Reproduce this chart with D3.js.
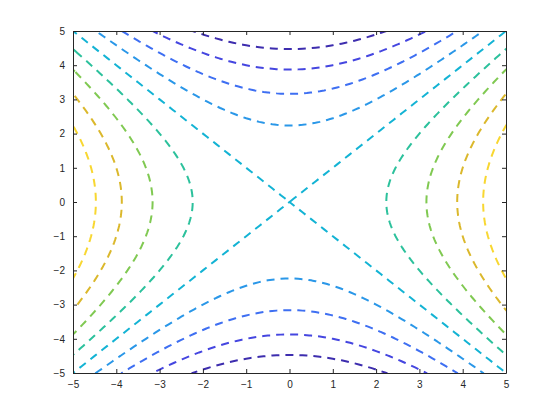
<!DOCTYPE html>
<html>
<head>
<meta charset="utf-8">
<script src="https://cdn.jsdelivr.net/npm/d3@7"></script>
<style>
  body { margin: 0; background: #fff; }
  svg { display: block; }
</style>
</head>
<body>
<div id="chart"></div>
<script>
// contour levels of z = x^2 - y^2 on [-5,5] x [-5,5]
var levels = [-20, -15, -10, -5, 0, 5, 10, 15, 20];
var xTicks = [-5, -4, -3, -2, -1, 0, 1, 2, 3, 4, 5];
var yTicks = [-5, -4, -3, -2, -1, 0, 1, 2, 3, 4, 5];
var xRange = [-5, 5];
var yRange = [-5, 5];

// parula-like colours, one per level
var levelColors = ["#3d2dae", "#4546e0", "#3e6ff2", "#2a97e8", "#13b3d4",
                   "#2cc19c", "#80c952", "#dbb82c", "#f8d731"];

var width = 560, height = 420;
var margin = {top: 31, right: 54, bottom: 47, left: 73};

var svg = d3.select("#chart").append("svg")
    .attr("width", width)
    .attr("height", height);

var xScale = d3.scaleLinear().domain(xRange).range([margin.left, width - margin.right]);
var yScale = d3.scaleLinear().domain(yRange).range([height - margin.bottom, margin.top]);

// sample the surface on a grid
var n = 101;
var step = (xRange[1] - xRange[0]) / (n - 1);
var values = new Array(n * n);
for (var j = 0; j < n; j++) {
  for (var i = 0; i < n; i++) {
    var xv = xRange[0] + i * step, yv = yRange[0] + j * step;
    values[j * n + i] = xv * xv - yv * yv;
  }
}

var contours = d3.contours().size([n, n]).thresholds(levels)(values);

var proj = d3.geoTransform({
  point: function(px, py) {
    this.stream.point(xScale(xRange[0] + (px - 0.5) * step),
                      yScale(yRange[0] + (py - 0.5) * step));
  }
});
var path = d3.geoPath(proj);

svg.append("clipPath").attr("id", "plotclip")
  .append("rect")
    .attr("x", xScale(xRange[0]))
    .attr("y", yScale(yRange[1]))
    .attr("width", xScale(xRange[1]) - xScale(xRange[0]))
    .attr("height", yScale(yRange[0]) - yScale(yRange[1]));

svg.append("g")
    .attr("clip-path", "url(#plotclip)")
  .selectAll("path")
  .data(contours)
  .enter()
  .append("path")
    .attr("d", path)
    .attr("fill", "none")
    .attr("stroke", function(d) { return levelColors[levels.indexOf(d.value)]; })
    .attr("stroke-width", 2)
    .attr("stroke-dasharray", "8,6");

// axes box with inward ticks on all four sides
var axisColor = "#262626";
var tickLen = 4;

var xAxisB = d3.axisBottom(xScale).tickValues(xTicks).tickSizeInner(-tickLen).tickSizeOuter(0).tickPadding(8);
var xAxisT = d3.axisTop(xScale).tickValues(xTicks).tickSizeInner(-tickLen).tickSizeOuter(0).tickFormat("");
var yAxisL = d3.axisLeft(yScale).tickValues(yTicks).tickSizeInner(-tickLen).tickSizeOuter(0).tickPadding(8);
var yAxisR = d3.axisRight(yScale).tickValues(yTicks).tickSizeInner(-tickLen).tickSizeOuter(0).tickFormat("");

svg.append("g").attr("class", "x axis")
    .attr("transform", "translate(0," + yScale(yRange[0]) + ")").call(xAxisB);
svg.append("g").attr("class", "x axis top")
    .attr("transform", "translate(0," + yScale(yRange[1]) + ")").call(xAxisT);
svg.append("g").attr("class", "y axis")
    .attr("transform", "translate(" + xScale(xRange[0]) + ",0)").call(yAxisL);
svg.append("g").attr("class", "y axis right")
    .attr("transform", "translate(" + xScale(xRange[1]) + ",0)").call(yAxisR);

svg.selectAll(".axis path").style("stroke", axisColor).style("stroke-width", 1);
svg.selectAll(".axis line").style("stroke", axisColor);
svg.selectAll(".axis text")
    .style("fill", axisColor)
    .style("font-size", "10px")
    .style("font-family", "'Liberation Sans', Arial, sans-serif");
</script>
</body>
</html>
